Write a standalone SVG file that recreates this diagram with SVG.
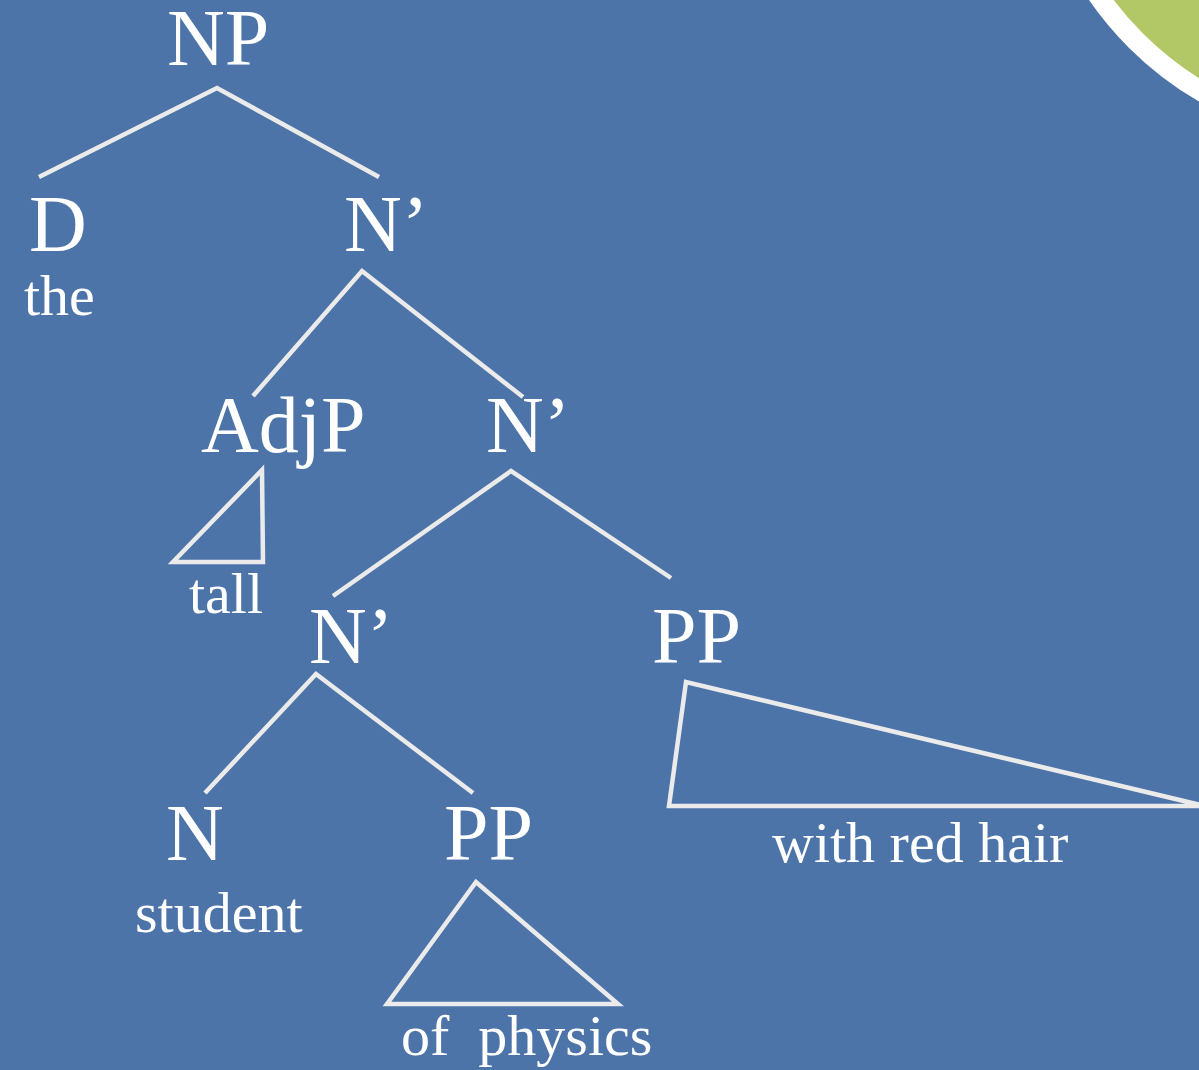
<svg xmlns="http://www.w3.org/2000/svg" width="1199" height="1070" viewBox="0 0 1199 1070">
<style>
.big{font-family:"Liberation Serif","Times New Roman",serif;font-size:80px;fill:#ffffff}
.sm{font-family:"Liberation Serif","Times New Roman",serif;font-size:58px;fill:#ffffff;white-space:pre}
.ln{stroke:#ebebeb;stroke-width:4.5;fill:none;stroke-linejoin:miter}
</style>
<rect width="1199" height="1070" fill="#4d74a8"/>
<circle cx="1369" cy="-193" r="330" fill="#b2c766" stroke="#ffffff" stroke-width="20"/>
<g id="connectors">
<polyline class="ln" points="39,177 217,88 379,177"/>
<polyline class="ln" points="253,396 362,271 523,397"/>
<polyline class="ln" points="333,596 511,471 671,578"/>
<polyline class="ln" points="205,793 316,674 473,793"/>
<polygon class="ln" points="262,470 263,562 173,562"/>
<polygon class="ln" points="476,882 387,1004 618,1004"/>
<polygon class="ln" points="686,682 669,806 1205,806"/>
</g>
<g id="np"><text class="big" x="167" y="65">NP</text></g>
<g id="d"><text class="big" x="29" y="251">D</text><text class="sm" x="24" y="315">the</text></g>
<g id="nbar1"><text class="big" x="344" y="251">N’</text></g>
<g id="adjp"><text class="big" x="201" y="452">AdjP</text><text class="sm" x="189" y="613">tall</text></g>
<g id="nbar2"><text class="big" x="486" y="452">N’</text></g>
<g id="nbar3"><text class="big" x="309" y="663">N’</text></g>
<g id="pp1"><text class="big" x="652" y="663">PP</text><text class="sm" x="772" y="862">with red hair</text></g>
<g id="n"><text class="big" x="166" y="860">N</text><text class="sm" x="135" y="932">student</text></g>
<g id="pp2"><text class="big" x="444" y="860">PP</text><text class="sm" x="401" y="1055">of  physics</text></g>
</svg>
